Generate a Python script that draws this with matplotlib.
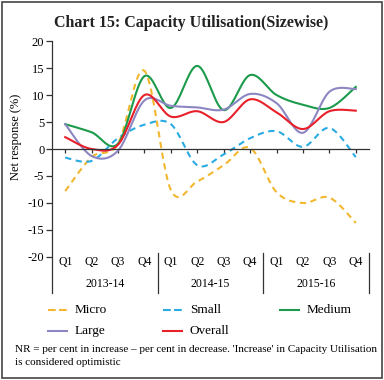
import numpy as np
import matplotlib
matplotlib.use("Agg")
import matplotlib.pyplot as plt
from matplotlib.patches import Rectangle
from matplotlib.lines import Line2D

quarters = ["Q1", "Q2", "Q3", "Q4"] * 3
years = ["2013-14", "2014-15", "2015-16"]

micro = [-7.8, -1.5, 1.0, 14.5, -7.6, -6.0, -3.0, 0.2, -8.0, -10.0, -9.0, -13.7]
small = [-1.6, -2.2, 2.0, 4.5, 4.6, -3.0, -1.0, 2.0, 3.3, 0.4, 3.9, -1.5]
medium = [4.6, 3.1, 1.0, 13.5, 7.6, 15.4, 7.2, 13.7, 10.0, 8.2, 7.6, 11.5]
large = [4.6, -1.3, -0.3, 9.0, 8.0, 7.7, 7.3, 10.2, 8.5, 3.0, 10.6, 11.1]
overall = [2.2, 0.0, 0.8, 10.0, 6.0, 7.0, 5.0, 9.2, 6.8, 3.7, 7.0, 7.1]

plt.rcParams['font.family'] = ['Liberation Serif', 'DejaVu Serif']


def smooth(y, n=20):
    # Catmull-Rom curve through the points (like Excel "smoothed line")
    y = np.asarray(y, float)
    x = np.arange(len(y), dtype=float)
    px = np.concatenate([[x[0]], x, [x[-1]]])
    py = np.concatenate([[y[0]], y, [y[-1]]])
    xs, ys = [], []
    t = np.linspace(0, 1, n, endpoint=False)
    for i in range(1, len(px) - 2):
        for p, out in ((px, xs), (py, ys)):
            p0, p1, p2, p3 = p[i - 1], p[i], p[i + 1], p[i + 2]
            out.extend(0.5 * (2 * p1 + (-p0 + p2) * t
                              + (2 * p0 - 5 * p1 + 4 * p2 - p3) * t ** 2
                              + (-p0 + 3 * p1 - 3 * p2 + p3) * t ** 3))
    xs.append(x[-1])
    ys.append(y[-1])
    return np.array(xs), np.array(ys)


fig = plt.figure(figsize=(3.84, 3.80), dpi=100)
ax = fig.add_axes([0.1354, 0.229, 0.8255, 0.663])

series = [
    ("Micro", micro, "#F2B72F", (0, (3, 2.2))),
    ("Small", small, "#2AABE2", (0, (3, 2.2))),
    ("Medium", medium, "#1B9B4B", "-"),
    ("Large", large, "#8C86C2", "-"),
    ("Overall", overall, "#E8202A", "-"),
]
lines = {}
for name, vals, col, ls in series:
    xs, ys = smooth(vals)
    lines[name], = ax.plot(xs, ys, color=col, lw=1.5, ls=ls, label=name)

ax.set_xlim(-0.5, 11.5)
ax.set_ylim(-26.67, 20)
ax.set_yticks(np.arange(-20, 21, 5))
ax.set_yticklabels([str(v) for v in range(-20, 21, 5)])
ax.set_xticks(range(12))
ax.set_xticklabels([])
ax.spines['top'].set_visible(False)
ax.spines['right'].set_visible(False)
ax.spines['bottom'].set_position(('data', 0))
for sp in ax.spines.values():
    sp.set_color("#333333")
    sp.set_linewidth(0.9)
ax.tick_params(axis='y', length=4, width=0.9, color="#333333", labelsize=9, pad=1.5)
ax.tick_params(axis='x', length=3, width=0.9, color="#333333", direction='out')
ax.set_ylabel("Net response (%)", fontsize=9, labelpad=2)
ax.yaxis.set_label_coords(-0.095, 0.62)

trans = ax.get_xaxis_transform()
for i, q in enumerate(quarters):
    ax.text(i, 0.123, q, transform=trans, ha='center', va='center', fontsize=8.5)
for j, yr in enumerate(years):
    ax.text(4 * j + 1.5, 0.036, yr, transform=trans, ha='center', va='center', fontsize=8.5)
for xsep in (3.5, 7.5, 11.5):
    ax.plot([xsep, xsep], [0, 0.158], transform=trans, color="#333333", lw=0.9, clip_on=False)

fig.text(0.497, 0.94, "Chart 15: Capacity Utilisation(Sizewise)", ha='center', va='center',
         fontsize=11.5, fontweight='bold', color="#222222")

# legend laid out in rows, as in the original
legend_slots = {"Micro": (48, 310), "Small": (163, 310), "Medium": (280, 310),
                "Large": (48, 331), "Overall": (163, 331)}
W, H = 384.0, 380.0
for name, (lx, ly) in legend_slots.items():
    src = lines[name]
    fig.add_artist(Line2D([lx / W, (lx + 19) / W], [1 - ly / H, 1 - ly / H],
                          transform=fig.transFigure, color=src.get_color(),
                          lw=1.5, ls=src.get_linestyle()))
    fig.text((lx + 27) / W, 1 - ly / H, name, fontsize=9.5, va='center')

fig.text(0.039, 0.079, "NR = per cent in increase \u2013 per cent in decrease. 'Increase' in Capacity Utilisation",
         fontsize=8.0, va='center')
fig.text(0.039, 0.046, "is considered optimistic", fontsize=8.0, va='center')

fig.patches.append(Rectangle((0.006, 0.006), 0.988, 0.988, transform=fig.transFigure,
                             fill=False, edgecolor="#444444", lw=1.2))

fig.savefig("out.png", dpi=100)
